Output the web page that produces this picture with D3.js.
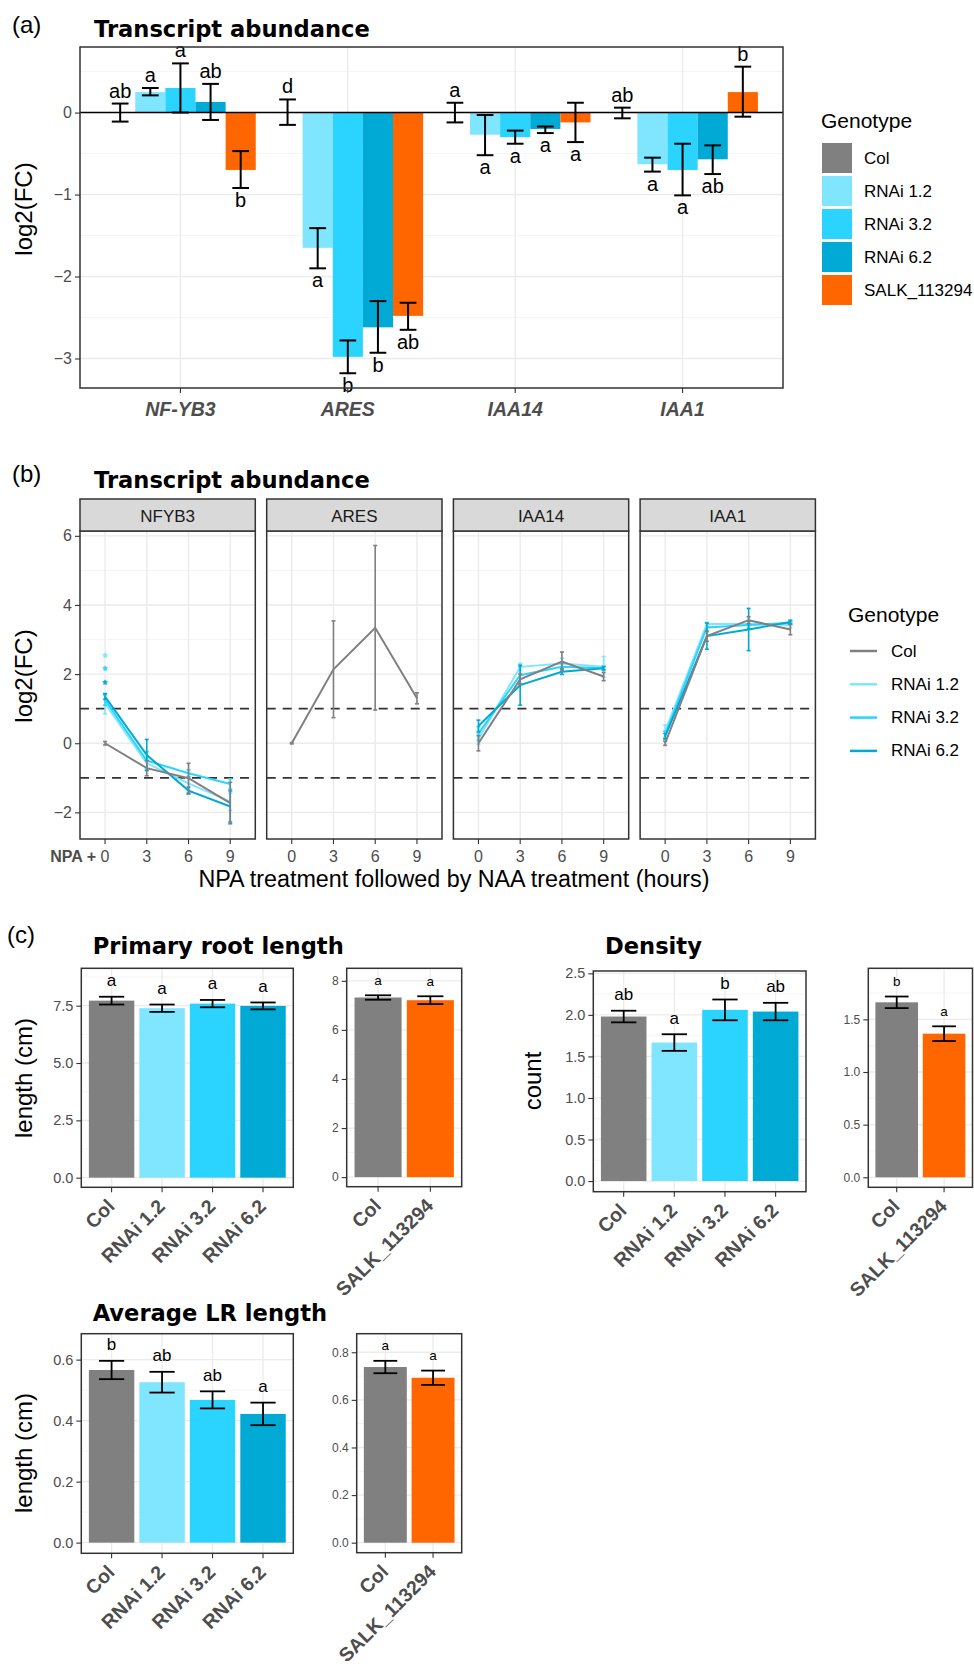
<!DOCTYPE html>
<html><head><meta charset="utf-8">
<script src="https://cdn.jsdelivr.net/npm/d3@7"></script>
<style>body{margin:0;background:#fff} svg{display:block}</style>
</head><body><svg id="c" width="974" height="1666"></svg>
<script>
// ================= DATA =================
const genotypes = ["Col","RNAi 1.2","RNAi 3.2","RNAi 6.2","SALK_113294"];
const genoColors = ["#808080","#80E5FF","#2AD4FF","#00AAD4","#FF6600"];

// ---- (a) qPCR bar chart ----
const genesA = ["NF-YB3","ARES","IAA14","IAA1"];
const meanA_Col  = [0, 0, 0, 0];
const meanA_R12  = [0.25, -1.65, -0.27, -0.63];
const meanA_R32  = [0.30, -2.98, -0.30, -0.70];
const meanA_R62  = [0.13, -2.62, -0.20, -0.57];
const meanA_SALK = [-0.70, -2.48, -0.12, 0.25];
const loA_Col  = [-0.11, -0.15, -0.12, -0.07], hiA_Col  = [0.11, 0.16, 0.12, 0.06];
const loA_R12  = [0.21, -1.90, -0.52, -0.72],  hiA_R12  = [0.30, -1.41, -0.03, -0.55];
const loA_R32  = [0.00, -3.18, -0.38, -1.01],  hiA_R32  = [0.60, -2.78, -0.22, -0.38];
const loA_R62  = [-0.09, -2.93, -0.25, -0.75], hiA_R62  = [0.35, -2.30, -0.17, -0.40];
const loA_SALK = [-0.92, -2.65, -0.36, -0.05], hiA_SALK = [-0.47, -2.32, 0.12, 0.56];
const letA_Col  = ["ab","d","a","ab"];
const letA_R12  = ["a","a","a","a"];
const letA_R32  = ["a","b","a","a"];
const letA_R62  = ["ab","b","a","ab"];
const letA_SALK = ["b","ab","a","b"];
const yTicksA = [-3,-2,-1,0];
const yMinorA = [-2.5,-1.5,-0.5,0.5];

// ---- (b) time course ----
const genesB = ["NFYB3","ARES","IAA14","IAA1"];
const timesB = ["0","3","6","9"];
const genotypesB = ["Col","RNAi 1.2","RNAi 3.2","RNAi 6.2"];
const meanB_Col = [[0,-0.72,-1.01,-1.73],[0,2.14,3.34,1.30],[0.0,1.85,2.36,1.93],[0.0,3.10,3.56,3.29]];
const seB_Col   = [[0.05,0.22,0.43,0.60],[0.02,1.40,2.38,0.16],[0.22,0.15,0.28,0.12],[0.06,0.15,0.10,0.15]];
const meanB_R12 = [[1.15,-0.58,-1.16,-1.69],null,[0.12,2.21,2.31,2.21],[0.35,3.45,3.45,3.42]];
const seB_R12   = [[0.30,0.20,0.20,0.25],null,[0.15,0.10,0.15,0.30],[0.18,0.05,0.10,0.08]];
const meanB_R32 = [[1.25,-0.50,-0.87,-1.18],null,[0.28,1.97,2.21,2.17],[0.25,3.35,3.42,3.48]];
const seB_R32   = [[0.15,0.25,0.10,0.15],null,[0.20,0.25,0.10,0.05],[0.10,0.12,0.10,0.05]];
const meanB_R62 = [[1.35,-0.34,-1.37,-1.83],null,[0.50,1.68,2.07,2.17],[0.20,3.10,3.29,3.51]];
const seB_R62   = [[0.08,0.45,0.10,0.45],null,[0.17,0.58,0.08,0.05],[0.08,0.38,0.61,0.05]];
const starsB = [2.58, 2.19, 1.80];          // NFYB3, time 0: RNAi 1.2, 3.2, 6.2
const thresholdsB = [1, -1];
const yTicksB = [-2,0,2,4,6];
const yMinorB = [-1,1,3,5];

// ---- (c) phenotypes ----
const catsMain = ["Col","RNAi 1.2","RNAi 3.2","RNAi 6.2"];
const catsSalk = ["Col","SALK_113294"];
const prMain = [7.72,7.39,7.59,7.49], prMainSe = [0.17,0.16,0.16,0.15], prMainLet = ["a","a","a","a"];
const prSalk = [7.32,7.21],           prSalkSe = [0.09,0.16],           prSalkLet = ["a","a"];
const deMain = [1.98,1.667,2.06,2.04], deMainSe = [0.07,0.10,0.125,0.105], deMainLet = ["ab","a","b","ab"];
const deSalk = [1.662,1.364],          deSalkSe = [0.055,0.07],            deSalkLet = ["b","a"];
const lrMain = [0.566,0.526,0.468,0.422], lrMainSe = [0.030,0.034,0.028,0.037], lrMainLet = ["b","ab","ab","a"];
const lrSalk = [0.738,0.693],             lrSalkSe = [0.026,0.030],             lrSalkLet = ["a","a"];
const prMainTicks = [0,2.5,5,7.5], prMainMinor = [1.25,3.75,6.25,8.75];
const prSalkTicks = [0,2,4,6,8],   prSalkMinor = [1,3,5,7];
const deMainTicks = [0,0.5,1,1.5,2,2.5], deMainMinor = [0.25,0.75,1.25,1.75,2.25];
const deSalkTicks = [0,0.5,1,1.5], deSalkMinor = [0.25,0.75,1.25,1.75];
const lrMainTicks = [0,0.2,0.4,0.6], lrMainMinor = [0.1,0.3,0.5];
const lrSalkTicks = [0,0.2,0.4,0.6,0.8], lrSalkMinor = [0.1,0.3,0.5,0.7];

// ================= DRAWING =================
const FONT = '"Liberation Sans", Arial, sans-serif';
const TFONT = '"DejaVu Sans", Verdana, sans-serif';
const GT = "#4D4D4D", BORDER = "#333333", GRID = "#EBEBEB";
const svg = d3.select("#c");
const col = g => genoColors[genotypes.indexOf(g)];

function T(g, x, y, s, o = {}) {
  const t = g.append("text").attr("x", x).attr("y", y).text(s)
    .style("font-family", o.family || FONT).style("font-size", (o.size || 16) + "px")
    .attr("fill", o.fill || "#000").attr("text-anchor", o.anchor || "start");
  if (o.weight) t.style("font-weight", o.weight);
  if (o.italic) t.style("font-style", "italic");
  if (o.rotate != null) t.attr("transform", `rotate(${o.rotate},${x},${y})`);
  if (o.baseline) t.attr("dominant-baseline", o.baseline);
  return t;
}
function hline(g, x1, x2, y, c, w, dash) {
  const l = g.append("line").attr("x1", x1).attr("x2", x2).attr("y1", y).attr("y2", y).attr("stroke", c).attr("stroke-width", w);
  if (dash) l.attr("stroke-dasharray", dash);
  return l;
}
function vline(g, x, y1, y2, c, w) {
  return g.append("line").attr("x1", x).attr("x2", x).attr("y1", y1).attr("y2", y2).attr("stroke", c).attr("stroke-width", w);
}
function yAxis(g, y, x, ticks, fmt, fs) {
  const ax = g.append("g").attr("transform", `translate(${x},0)`)
    .call(d3.axisLeft(y).tickValues(ticks).tickFormat(fmt).tickSize(5).tickPadding(3));
  ax.select(".domain").remove();
  ax.selectAll("line").attr("stroke", BORDER).attr("stroke-width", 1.1);
  ax.selectAll("text").attr("fill", GT).style("font-size", fs + "px").style("font-family", FONT);
}
function errBar(g, x, y1, y2, w, c, lw) {
  vline(g, x, y1, y2, c, lw);
  hline(g, x - w / 2, x + w / 2, y1, c, lw);
  hline(g, x - w / 2, x + w / 2, y2, c, lw);
}

// ---------- panel labels ----------
T(svg, 12, 33, "(a)", {size: 24});
T(svg, 12, 482, "(b)", {size: 24});
T(svg, 7, 943, "(c)", {size: 24});

// ================= (a) =================
(function () {
  const P = {l: 80, r: 783, t: 47, b: 388};
  const g = svg.append("g");
  const x = d3.scalePoint().domain(genesA).range([P.l, P.r]).padding(0.6);
  const st = x.step();
  const xin = d3.scaleBand().domain(genotypes).range([-0.45 * st, 0.45 * st]);
  const y = d3.scaleLinear().domain([-3.36, 0.80]).range([P.b, P.t]);
  yMinorA.forEach(v => hline(g, P.l, P.r, y(v), "#F2F2F2", 0.8));
  yTicksA.forEach(v => hline(g, P.l, P.r, y(v), GRID, 1.4));
  genesA.forEach(d => vline(g, x(d), P.t, P.b, GRID, 1.4));
  const rows = [
    [meanA_Col, loA_Col, hiA_Col, letA_Col],
    [meanA_R12, loA_R12, hiA_R12, letA_R12],
    [meanA_R32, loA_R32, hiA_R32, letA_R32],
    [meanA_R62, loA_R62, hiA_R62, letA_R62],
    [meanA_SALK, loA_SALK, hiA_SALK, letA_SALK]];
  rows.forEach((r, k) => genesA.forEach((gn, i) => {
    const m = r[0][i];
    g.append("rect").attr("x", x(gn) + xin(genotypes[k])).attr("width", xin.bandwidth())
      .attr("y", y(Math.max(0, m))).attr("height", Math.abs(y(m) - y(0))).attr("fill", genoColors[k]);
  }));
  hline(g, P.l, P.r, y(0), "#000", 1.5);
  rows.forEach((r, k) => genesA.forEach((gn, i) => {
    const cx = x(gn) + xin(genotypes[k]) + xin.bandwidth() / 2;
    const m = r[0][i], lo = r[1][i], hi = r[2][i];
    errBar(g, cx, y(lo), y(hi), 0.1 * st, "#000", 2);
    if (m >= 0) T(g, cx, y(hi) - 6, r[3][i], {size: 20, anchor: "middle"});
    else T(g, cx, y(lo) + 19, r[3][i], {size: 20, anchor: "middle"});
  }));
  g.append("rect").attr("x", P.l).attr("y", P.t).attr("width", P.r - P.l).attr("height", P.b - P.t)
    .attr("fill", "none").attr("stroke", BORDER).attr("stroke-width", 1.5);
  yAxis(g, y, P.l, yTicksA, d3.format("d"), 16);
  genesA.forEach(d => {
    vline(g, x(d), P.b, P.b + 5, BORDER, 1.1);
    T(g, x(d), 416, d, {size: 19.5, weight: "bold", italic: true, fill: GT, anchor: "middle"});
  });
  T(g, 26, 209, "log2(FC)", {size: 24, anchor: "middle", rotate: -90, baseline: "middle"});
  T(g, 94, 37, "Transcript abundance", {size: 22.6, weight: "bold", family: TFONT});
  // legend
  T(g, 821, 128, "Genotype", {size: 21});
  genotypes.forEach((gt, k) => {
    g.append("rect").attr("x", 822).attr("y", 143 + 33 * k).attr("width", 30).attr("height", 30).attr("fill", genoColors[k]);
    T(g, 864, 158 + 33 * k, gt, {size: 17, baseline: "central"});
  });
})();

// ================= (b) =================
(function () {
  const top = 531, bot = 839, stripTop = 499;
  const g = svg.append("g");
  const fx = d3.scaleBand().domain(genesB).range([80, 815.4]).paddingInner(0.0611);
  const y = d3.scaleLinear().domain([-2.77, 6.14]).range([bot, top]);
  const means = [meanB_Col, meanB_R12, meanB_R32, meanB_R62];
  const ses = [seB_Col, seB_R12, seB_R32, seB_R62];
  const order = [1, 2, 3, 0];
  genesB.forEach((gn, f) => {
    const l = fx(gn), r = l + fx.bandwidth();
    const x = d3.scalePoint().domain(timesB).range([l, r]).padding(0.6);
    yMinorB.forEach(v => hline(g, l, r, y(v), "#F2F2F2", 0.8));
    yTicksB.forEach(v => hline(g, l, r, y(v), GRID, 1.4));
    timesB.forEach(t => vline(g, x(t), top, bot, GRID, 1.4));
    thresholdsB.forEach(v => hline(g, l, r, y(v), BORDER, 1.8, "9,7"));
    order.forEach(k => {
      const m = means[k][f]; if (!m) return;
      const s = ses[k][f];
      const c = col(genotypesB[k]);
      g.append("path").datum(m).attr("fill", "none").attr("stroke", c).attr("stroke-width", 2)
        .attr("d", d3.line().x((d, i) => x(timesB[i])).y(d => y(d)));
      m.forEach((d, i) => errBar(g, x(timesB[i]), y(d - s[i]), y(d + s[i]), 4, c, 1.6));
    });
    if (f === 0) {
      // significance asterisks (small font so the text boxes do not collide; light stroke thickens the glyph)
      starsB.forEach((v, k) => {
        const c = col(genotypesB[k + 1]);
        T(g, x(timesB[0]), y(v) + 7.5, "*", {size: 12.5, anchor: "middle", fill: c})
          .attr("stroke", c).attr("stroke-width", 0.6).attr("stroke-linejoin", "round");
      });
    }
    g.append("rect").attr("x", l).attr("y", top).attr("width", r - l).attr("height", bot - top)
      .attr("fill", "none").attr("stroke", BORDER).attr("stroke-width", 1.5);
    g.append("rect").attr("x", l).attr("y", stripTop).attr("width", r - l).attr("height", top - stripTop)
      .attr("fill", "#D9D9D9").attr("stroke", BORDER).attr("stroke-width", 1.5);
    T(g, (l + r) / 2, (stripTop + top) / 2 + 1, gn, {size: 17, anchor: "middle", baseline: "central", fill: "#1A1A1A"});
    timesB.forEach(t => {
      vline(g, x(t), bot, bot + 5, BORDER, 1.1);
      T(g, x(t), 862, t, {size: 16, anchor: "middle", fill: GT});
    });
  });
  yAxis(g, y, 80, yTicksB, d3.format("d"), 16);
  T(g, 96, 862, "NPA +", {size: 16, anchor: "end", weight: "bold", fill: GT});
  T(g, 454, 887, "NPA treatment followed by NAA treatment (hours)", {size: 23.3, anchor: "middle"});
  T(g, 26, 676, "log2(FC)", {size: 24, anchor: "middle", rotate: -90, baseline: "middle"});
  T(g, 94, 488, "Transcript abundance", {size: 22.6, weight: "bold", family: TFONT});
  T(g, 848, 622, "Genotype", {size: 21});
  genotypesB.forEach((gt, k) => {
    const yy = 651 + 33.3 * k;
    hline(g, 850, 877, yy, col(gt), 2.5);
    T(g, 891, yy, gt, {size: 17, baseline: "central"});
  });
})();

// ================= (c) =================
function barPlot(P, cats, means, ses, letters, dom, ticks, minor, fmt, tickFs, letFs) {
  const g = svg.append("g");
  const x = d3.scalePoint().domain(cats).range([P.l, P.r]).padding(0.6);
  const st = x.step();
  const y = d3.scaleLinear().domain(dom).range([P.b, P.t]);
  minor.forEach(v => hline(g, P.l, P.r, y(v), "#F2F2F2", 0.8));
  ticks.forEach(v => hline(g, P.l, P.r, y(v), GRID, 1.3));
  cats.forEach(c => vline(g, x(c), P.t, P.b, GRID, 1.3));
  cats.forEach((c, i) => {
    g.append("rect").attr("x", x(c) - 0.45 * st).attr("width", 0.9 * st)
      .attr("y", y(means[i])).attr("height", y(0) - y(means[i])).attr("fill", col(c));
  });
  cats.forEach((c, i) => {
    const hi = means[i] + ses[i], lo = means[i] - ses[i];
    errBar(g, x(c), y(lo), y(hi), 0.5 * st, "#000", 1.8);
    T(g, x(c), y(hi) - 10.5, letters[i], {size: letFs, anchor: "middle"});
  });
  g.append("rect").attr("x", P.l).attr("y", P.t).attr("width", P.r - P.l).attr("height", P.b - P.t)
    .attr("fill", "none").attr("stroke", BORDER).attr("stroke-width", 1.5);
  yAxis(g, y, P.l, ticks, fmt, tickFs);
  cats.forEach(c => {
    vline(g, x(c), P.b, P.b + 5, BORDER, 1.1);
    T(g, x(c) - 6, P.b + 10, c, {size: 19.5, weight: "bold", fill: GT, anchor: "end", rotate: -45, baseline: "hanging"});
  });
  return g;
}
const f1 = d3.format(".1f"), fd = d3.format("d");
barPlot({l: 81.3, r: 293.3, t: 968.3, b: 1187.3}, catsMain, prMain, prMainSe, prMainLet, [-0.42, 9.13], prMainTicks, prMainMinor, f1, 14.5, 17);
barPlot({l: 346.7, r: 461.7, t: 968.3, b: 1186.7}, catsSalk, prSalk, prSalkSe, prSalkLet, [-0.39, 8.51], prSalkTicks, prSalkMinor, fd, 12, 13.5);
barPlot({l: 593.3, r: 806, t: 971, b: 1191.7}, catsMain, deMain, deMainSe, deMainLet, [-0.128, 2.528], deMainTicks, deMainMinor, f1, 14.5, 17);
barPlot({l: 868.3, r: 972.5, t: 968.3, b: 1187.3}, catsSalk, deSalk, deSalkSe, deSalkLet, [-0.095, 1.985], deSalkTicks, deSalkMinor, f1, 12, 13.5);
barPlot({l: 81.3, r: 293.3, t: 1333.7, b: 1553.3}, catsMain, lrMain, lrMainSe, lrMainLet, [-0.035, 0.685], lrMainTicks, lrMainMinor, f1, 14.5, 17);
barPlot({l: 356.7, r: 461.7, t: 1333.7, b: 1552.7}, catsSalk, lrSalk, lrSalkSe, lrSalkLet, [-0.042, 0.878], lrSalkTicks, lrSalkMinor, f1, 12, 13.5);

T(svg, 92.7, 954, "Primary root length", {size: 22.6, weight: "bold", family: TFONT});
T(svg, 605, 954, "Density", {size: 22.6, weight: "bold", family: TFONT});
T(svg, 92.7, 1320.7, "Average LR length", {size: 22.6, weight: "bold", family: TFONT});
T(svg, 26, 1078, "length (cm)", {size: 24, anchor: "middle", rotate: -90, baseline: "middle"});
T(svg, 535, 1081, "count", {size: 24, anchor: "middle", rotate: -90, baseline: "middle"});
T(svg, 26, 1453, "length (cm)", {size: 24, anchor: "middle", rotate: -90, baseline: "middle"});
</script></body></html>
